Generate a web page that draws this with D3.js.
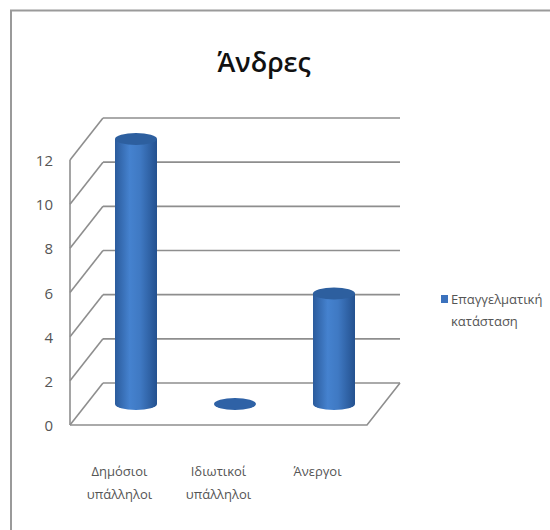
<!DOCTYPE html>
<html>
<head>
<meta charset="utf-8">
<script src="https://cdn.jsdelivr.net/npm/d3@7"></script>
<style>
  body { margin: 0; background: #fff; }
  text { font-family: "Open Sans", "Noto Sans", sans-serif; }
</style>
</head>
<body>
<div id="chart"></div>
<script>
var categories = [['Δημόσιοι', 'υπάλληλοι'], ['Ιδιωτικοί', 'υπάλληλοι'], ['Άνεργοι']],
    values = [12, 0, 5],
    yTicks = [0, 2, 4, 6, 8, 10, 12],
    seriesName = ['Επαγγελματική', 'κατάσταση'],
    title = 'Άνδρες'

var width = 550, height = 530,
    depth = {dx: 33, dy: -42},
    floor = {left: 70, right: 367},
    colors = {grid: '#8e8e8e', text: '#555', bar: '#3b72bd', barTop: '#2d5f9f'}

var svg = d3.select('#chart').append('svg')
    .attr('width', width)
    .attr('height', height)

// outer frame (only top and left edges show in the picture)
svg.append('path')
    .attr('d', 'M11,530 V10.5 H550')
    .attr('fill', 'none')
    .attr('stroke', '#9a9a9a')
    .attr('stroke-width', 2)

svg.append('text')
    .attr('x', 264).attr('y', 72)
    .attr('text-anchor', 'middle')
    .attr('font-size', 27)
    .attr('font-weight', 600)
    .attr('fill', '#111')
    .text(title)

var x = d3.scaleBand()
    .domain(d3.range(categories.length))
    .range([floor.left, floor.right])

var y = d3.scaleLinear()
    .domain([0, 12])
    .range([425, 160])

var grid = svg.append('g')
    .attr('stroke', colors.grid)
    .attr('stroke-width', 1.6)
    .attr('fill', 'none')

yTicks.forEach(function(t) {
    // back wall line
    grid.append('line')
        .attr('x1', floor.left + depth.dx).attr('x2', floor.right + depth.dx)
        .attr('y1', y(t) + depth.dy).attr('y2', y(t) + depth.dy)
    // side wall diagonal
    grid.append('line')
        .attr('x1', floor.left).attr('x2', floor.left + depth.dx)
        .attr('y1', y(t)).attr('y2', y(t) + depth.dy)
})

// front edge of side wall
grid.append('line')
    .attr('x1', floor.left).attr('x2', floor.left)
    .attr('y1', y(0)).attr('y2', y(12))

// floor front and right edges
grid.append('path')
    .attr('d', 'M' + floor.left + ',' + y(0) + ' L' + floor.right + ',' + y(0) +
        ' L' + (floor.right + depth.dx) + ',' + (y(0) + depth.dy))

// y axis labels
svg.append('g').selectAll('text')
    .data(yTicks)
    .join('text')
    .attr('x', 53)
    .attr('y', function(d) { return y(d) + 6 })
    .attr('text-anchor', 'end')
    .attr('font-size', 15)
    .attr('fill', colors.text)
    .text(function(d) { return d })

// cylinders
var defs = svg.append('defs')
var grad = defs.append('linearGradient')
    .attr('id', 'cyl')
    .attr('x1', 0).attr('x2', 1).attr('y1', 0).attr('y2', 0)
grad.append('stop').attr('offset', 0).attr('stop-color', '#2b5b9c')
grad.append('stop').attr('offset', 0.35).attr('stop-color', '#4582cf')
grad.append('stop').attr('offset', 0.6).attr('stop-color', '#3f79c3')
grad.append('stop').attr('offset', 1).attr('stop-color', '#24518f')

var rx = 21, ry = 6

var bars = svg.append('g').selectAll('g')
    .data(values)
    .join('g')
    .attr('transform', function(d, i) {
        return 'translate(' + (x(i) + x.bandwidth() / 2 + depth.dx / 2) + ',' + (depth.dy / 2) + ')'
    })

bars.filter(function(d) { return d > 0 }).append('path')
    .attr('d', function(d) {
        var top = y(d), bot = y(0)
        return 'M' + (-rx) + ',' + top + ' V' + bot +
            ' A' + rx + ',' + ry + ' 0 0 0 ' + rx + ',' + bot +
            ' V' + top + ' Z'
    })
    .attr('fill', 'url(#cyl)')

bars.append('ellipse')
    .attr('cx', 0)
    .attr('cy', function(d) { return y(d) })
    .attr('rx', rx).attr('ry', ry)
    .attr('fill', function(d) { return d > 0 ? colors.barTop : '#2f62a6' })

// category labels
var labels = svg.append('g').selectAll('text')
    .data(categories)
    .join('text')
    .attr('x', function(d, i) { return x(i) + x.bandwidth() / 2 })
    .attr('y', 476)
    .attr('text-anchor', 'middle')
    .attr('font-size', 13)
    .attr('fill', colors.text)

labels.selectAll('tspan')
    .data(function(d) { return d })
    .join('tspan')
    .attr('x', function() { return this.parentNode.getAttribute('x') })
    .attr('dy', function(d, i) { return i ? 23 : 0 })
    .text(function(d) { return d })

// legend
var legend = svg.append('g')
legend.append('rect')
    .attr('x', 441).attr('y', 295)
    .attr('width', 7).attr('height', 8)
    .attr('fill', colors.bar)
legend.append('text')
    .attr('x', 451).attr('y', 304)
    .attr('font-size', 13)
    .attr('fill', colors.text)
    .selectAll('tspan')
    .data(seriesName)
    .join('tspan')
    .attr('x', 451)
    .attr('dy', function(d, i) { return i ? 22 : 0 })
    .text(function(d) { return d })
</script>
</body>
</html>
